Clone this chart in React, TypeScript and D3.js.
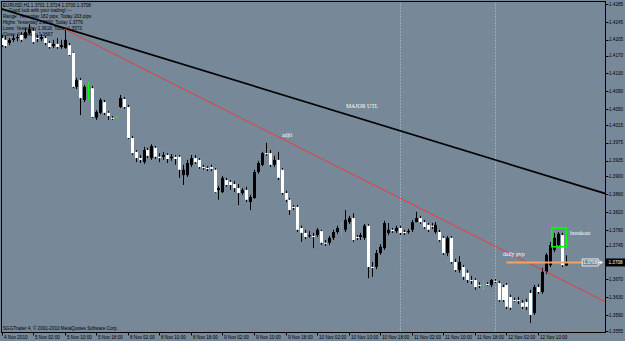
import React from 'react';
import * as d3 from 'd3';

const W = 625;
const H = 341;

// ---- Data (EURUSD H1) ----
const open = [
  1.4209, 1.4205, 1.4198, 1.4205, 1.4209, 1.4216, 1.4209, 1.4220, 1.4225, 1.4209,
  1.4207, 1.4209, 1.4198, 1.4191, 1.4196, 1.4189, 1.4187, 1.4193, 1.4176, 1.4100,
  1.4115, 1.4071, 1.4097, 1.4097, 1.4031, 1.4042, 1.4066, 1.4042, 1.4031, 1.4033,
  1.4055, 1.4073, 1.4055, 1.3986, 1.3955, 1.3941, 1.3932, 1.3959, 1.3941, 1.3964,
  1.3944, 1.3944, 1.3948, 1.3941, 1.3944, 1.3944, 1.3903, 1.3903, 1.3926, 1.3941,
  1.3937, 1.3921, 1.3919, 1.3921, 1.3915, 1.3870, 1.3865, 1.3892, 1.3888, 1.3883,
  1.3874, 1.3863, 1.3870, 1.3843, 1.3852, 1.3910, 1.3926, 1.3952, 1.3952, 1.3926,
  1.3937, 1.3915, 1.3863, 1.3848, 1.3832, 1.3832, 1.3785, 1.3774, 1.3767, 1.3767,
  1.3769, 1.3778, 1.3752, 1.3752, 1.3763, 1.3776, 1.3768, 1.3781, 1.3798, 1.3807,
  1.3765, 1.3765, 1.3763, 1.3790, 1.3698, 1.3698, 1.3729, 1.3740, 1.3774, 1.3781,
  1.3778, 1.3785, 1.3776, 1.3776, 1.3781, 1.3798, 1.3807, 1.3798, 1.3792, 1.3790,
  1.3776, 1.3776, 1.3763, 1.3729, 1.3763, 1.3709, 1.3691, 1.3698, 1.3685, 1.3669,
  1.3669, 1.3658, 1.3658, 1.3660, 1.3658, 1.3667, 1.3662, 1.3653, 1.3658, 1.3631,
  1.3624, 1.3624, 1.3618, 1.3620, 1.3640, 1.3595, 1.3653, 1.3642, 1.3687, 1.3702,
  1.3736, 1.3747, 1.3769, 1.3701,
];
const high = [
  1.4216, 1.4214, 1.4209, 1.4216, 1.4218, 1.4222, 1.4231, 1.4240, 1.4231, 1.4216,
  1.4218, 1.4214, 1.4202, 1.4205, 1.4209, 1.4205, 1.4229, 1.4198, 1.4178, 1.4120,
  1.4120, 1.4104, 1.4111, 1.4102, 1.4048, 1.4075, 1.4071, 1.4046, 1.4035, 1.4035,
  1.4082, 1.4077, 1.4060, 1.3990, 1.3959, 1.3948, 1.3966, 1.3964, 1.3972, 1.3968,
  1.3952, 1.3955, 1.3952, 1.3950, 1.3948, 1.3948, 1.3926, 1.3937, 1.3948, 1.3948,
  1.3941, 1.3926, 1.3923, 1.3926, 1.3919, 1.3879, 1.3901, 1.3897, 1.3892, 1.3890,
  1.3883, 1.3874, 1.3877, 1.3859, 1.3915, 1.3935, 1.3955, 1.3975, 1.3959, 1.3946,
  1.3955, 1.3919, 1.3868, 1.3852, 1.3836, 1.3836, 1.3790, 1.3781, 1.3778, 1.3774,
  1.3785, 1.3781, 1.3758, 1.3767, 1.3781, 1.3790, 1.3798, 1.3825, 1.3812, 1.3818,
  1.3769, 1.3774, 1.3794, 1.3794, 1.3709, 1.3736, 1.3749, 1.3801, 1.3796, 1.3785,
  1.3790, 1.3790, 1.3781, 1.3783, 1.3803, 1.3821, 1.3812, 1.3803, 1.3796, 1.3796,
  1.3798, 1.3781, 1.3767, 1.3767, 1.3767, 1.3716, 1.3722, 1.3702, 1.3691, 1.3678,
  1.3673, 1.3664, 1.3669, 1.3664, 1.3671, 1.3671, 1.3667, 1.3658, 1.3662, 1.3636,
  1.3629, 1.3631, 1.3624, 1.3627, 1.3647, 1.3658, 1.3660, 1.3696, 1.3729, 1.3754,
  1.3774, 1.3776, 1.3774, 1.3724,
];
const low = [
  1.4189, 1.4187, 1.4193, 1.4200, 1.4202, 1.4200, 1.4207, 1.4216, 1.4196, 1.4200,
  1.4202, 1.4193, 1.4185, 1.4187, 1.4185, 1.4185, 1.4185, 1.4169, 1.4097, 1.4095,
  1.4037, 1.4066, 1.4071, 1.4031, 1.4026, 1.4039, 1.4037, 1.4026, 1.4026, 1.4031,
  1.4053, 1.4051, 1.3984, 1.3948, 1.3932, 1.3930, 1.3928, 1.3941, 1.3937, 1.3939,
  1.3932, 1.3937, 1.3930, 1.3935, 1.3926, 1.3897, 1.3881, 1.3899, 1.3921, 1.3928,
  1.3917, 1.3915, 1.3912, 1.3912, 1.3863, 1.3848, 1.3863, 1.3877, 1.3870, 1.3865,
  1.3836, 1.3859, 1.3843, 1.3825, 1.3850, 1.3906, 1.3923, 1.3946, 1.3921, 1.3921,
  1.3892, 1.3859, 1.3843, 1.3814, 1.3825, 1.3776, 1.3754, 1.3760, 1.3763, 1.3740,
  1.3765, 1.3747, 1.3745, 1.3747, 1.3758, 1.3772, 1.3765, 1.3776, 1.3794, 1.3754,
  1.3758, 1.3758, 1.3758, 1.3673, 1.3676, 1.3693, 1.3725, 1.3736, 1.3769, 1.3774,
  1.3774, 1.3769, 1.3769, 1.3772, 1.3776, 1.3798, 1.3794, 1.3783, 1.3776, 1.3783,
  1.3772, 1.3754, 1.3725, 1.3722, 1.3705, 1.3687, 1.3685, 1.3669, 1.3662, 1.3660,
  1.3647, 1.3651, 1.3647, 1.3656, 1.3653, 1.3662, 1.3620, 1.3620, 1.3604, 1.3602,
  1.3620, 1.3615, 1.3604, 1.3602, 1.3573, 1.3591, 1.3638, 1.3638, 1.3682, 1.3698,
  1.3731, 1.3743, 1.3698, 1.3700,
];
const close = [
  1.4193, 1.4191, 1.4205, 1.4209, 1.4211, 1.4205, 1.4222, 1.4229, 1.4200, 1.4207,
  1.4211, 1.4198, 1.4189, 1.4196, 1.4189, 1.4193, 1.4205, 1.4171, 1.4100, 1.4115,
  1.4075, 1.4100, 1.4104, 1.4033, 1.4044, 1.4071, 1.4042, 1.4035, 1.4030, 1.4033,
  1.4075, 1.4055, 1.3986, 1.3952, 1.3941, 1.3937, 1.3959, 1.3946, 1.3968, 1.3944,
  1.3941, 1.3948, 1.3939, 1.3944, 1.3939, 1.3915, 1.3915, 1.3930, 1.3941, 1.3932,
  1.3921, 1.3919, 1.3917, 1.3917, 1.3865, 1.3874, 1.3897, 1.3881, 1.3881, 1.3874,
  1.3863, 1.3870, 1.3848, 1.3854, 1.3910, 1.3930, 1.3952, 1.3951, 1.3926, 1.3937,
  1.3897, 1.3863, 1.3848, 1.3825, 1.3830, 1.3781, 1.3774, 1.3765, 1.3769, 1.3765,
  1.3781, 1.3752, 1.3751, 1.3763, 1.3776, 1.3785, 1.3795, 1.3803, 1.3807, 1.3758,
  1.3763, 1.3769, 1.3790, 1.3698, 1.3697, 1.3729, 1.3743, 1.3796, 1.3781, 1.3778,
  1.3785, 1.3774, 1.3775, 1.3778, 1.3798, 1.3807, 1.3798, 1.3787, 1.3781, 1.3789,
  1.3792, 1.3758, 1.3729, 1.3763, 1.3709, 1.3691, 1.3709, 1.3676, 1.3669, 1.3668,
  1.3653, 1.3657, 1.3658, 1.3659, 1.3669, 1.3666, 1.3624, 1.3624, 1.3609, 1.3607,
  1.3623, 1.3622, 1.3609, 1.3609, 1.3591, 1.3653, 1.3642, 1.3687, 1.3725, 1.3747,
  1.3763, 1.3772, 1.3702, 1.3708,
];
const greenBars = [22, 29, 86, 122];

const timeLabels = [
  '4 Nov 2010', '5 Nov 02:00', '5 Nov 10:00', '5 Nov 18:00', '8 Nov 02:00', '8 Nov 10:00',
  '8 Nov 18:00', '9 Nov 02:00', '9 Nov 10:00', '9 Nov 18:00', '10 Nov 02:00', '10 Nov 10:00',
  '10 Nov 18:00', '11 Nov 02:00', '11 Nov 10:00', '11 Nov 18:00', '12 Nov 02:00', '12 Nov 10:00',
];
const barsPerTimeLabel = 8;
const priceTicks = [
  1.4285, 1.4245, 1.4205, 1.4170, 1.4130, 1.4090, 1.4050, 1.4015, 1.3975, 1.3935,
  1.3900, 1.3860, 1.3820, 1.3780, 1.3745, 1.3705, 1.3670, 1.3630, 1.3590, 1.3555,
];
const headerLines = [
  'EURUSD,H1  1.3701 1.3724 1.3700 1.3708',
  '--- Good luck with your trading! ---',
  'Range: Yesterday 182 pips; Today 203 pips',
  'Highs: Yesterday 1.3800, Today 1.3776',
  'Lows: Yesterday 1.3618, Today 1.3573',
  'Close: Yesterday 1.3667',
];
const copyright = 'SGGTrader 4, \u00a9 2001-2010 MetaQuotes Software Corp.';
const lastPrice = 1.3708;

const majorUtl = { idx: [0, 143], price: [1.4274, 1.3889] };
const minorTl = { idx: [16, 143], price: [1.4229, 1.3665] };
const pivotLine = { idx: [128, 147.2], price: 1.3708 };
const breakoutBox = { idx: [139.5, 143.2], price: [1.3785, 1.3743] };
const separators = [101, 125];
const notes = [
  { text: 'MAJOR UTL', idx: 87.3, price: 1.4053 },
  { text: 'adjtl', idx: 71.1, price: 1.3987 },
  { text: 'daily pvp', idx: 127.1, price: 1.3723 },
  { text: 'breakout', idx: 144.1, price: 1.3769 },
];
const faintNotes = [
  { text: 'pivot', idx: 98.5, price: 1.3696 },
  { text: 'pivot', idx: 123.3, price: 1.3694 },
];

const BG = '#778899';
const FRAME = { l: 1.5, r: 605.5, t: 1.5, b: 332.5 };

export default function App() {
  const n = open.length;
  const x = d3.scaleLinear().domain([0, n - 1]).range([1.5, 1.5 + 3.945 * (n - 1)]);
  const y = d3.scaleLinear().domain([1.3555, 1.4285]).range([331, 4]);
  const line = d3.line<[number, number]>();

  const ray = (tl: { idx: number[]; price: number[] }, extendLeft: boolean) => {
    const x1 = x(tl.idx[0]), y1 = y(tl.price[0]);
    const x2 = x(tl.idx[1]), y2 = y(tl.price[1]);
    const m = (y2 - y1) / (x2 - x1);
    const xs = extendLeft ? FRAME.l : x1;
    const xe = FRAME.r;
    return line([[xs, y1 + m * (xs - x1)], [xe, y1 + m * (xe - x1)]]) || '';
  };

  const font = "'Liberation Sans', Arial, sans-serif";
  const serif = "'Liberation Serif', 'Times New Roman', serif";
  const tiny = 4.6;

  const lastY = y(lastPrice);
  const pvY = y(pivotLine.price);
  const pvX1 = x(pivotLine.idx[1]);

  return (
    <svg width={W} height={H} style={{ position: 'absolute', left: 0, top: 0 }} fontFamily={font}>
      <defs>
        <clipPath id="plot">
          <rect x={FRAME.l} y={FRAME.t} width={FRAME.r - FRAME.l} height={FRAME.b - FRAME.t} />
        </clipPath>
      </defs>
      <rect x={0} y={0} width={W} height={H} fill={BG} />

      <g clipPath="url(#plot)">
        {separators.map((s) => (
          <line key={s} x1={Math.round(x(s)) + 0.5} x2={Math.round(x(s)) + 0.5} y1={FRAME.t} y2={FRAME.b}
            stroke="#c4ccd6" strokeWidth={1} strokeDasharray="1,2" />
        ))}

        {/* header text */}
        {headerLines.map((t, k) => (
          <text key={k} x={3} y={6.5 + k * 5.8} fontSize={tiny} fill="#000">{t}</text>
        ))}

        {/* candles */}
        {d3.range(n).map((i) => {
          const o = open[i], c = close[i], h = high[i], l = low[i];
          const cx = Math.round(x(i));
          const green = greenBars.includes(i);
          const top = y(Math.max(o, c));
          const bot = y(Math.min(o, c));
          const bh = Math.max(1, bot - top);
          const bull = c > o;
          const wickColor = green ? '#00ff00' : '#000';
          const fill = green ? '#00ff00' : bull ? '#000' : '#ffffff';
          const bw = green && bh > 1.5 ? 1 : 3;
          return (
            <g key={i}>
              <line x1={cx + 0.5} x2={cx + 0.5} y1={y(h)} y2={y(l)} stroke={wickColor} strokeWidth={1} />
              <rect x={cx + 0.5 - bw / 2} y={top} width={bw} height={bh} fill={fill} />
            </g>
          );
        })}

        {/* trend lines */}
        <path d={ray(majorUtl, true)} stroke="#000" strokeWidth={1.7} fill="none" />
        <path d={ray(minorTl, false)} stroke="#ee3b3b" strokeWidth={1} fill="none" />

        {/* daily pivot */}
        <line x1={x(pivotLine.idx[0])} x2={pvX1} y1={pvY} y2={pvY} stroke="#f4a460" strokeWidth={2} />
        <rect x={pvX1} y={pvY - 3.5} width={16} height={7} fill="none" stroke="#ffffff" strokeWidth={0.8} />
        <text x={pvX1 + 8} y={pvY + 1.7} fontSize={tiny} fill="#ffffff" textAnchor="middle">{lastPrice.toFixed(4)}</text>
        <line x1={pvX1 + 16} x2={pvX1 + 20} y1={pvY} y2={pvY} stroke="#ffffff" strokeWidth={1} />
        <path d={`M${pvX1 + 17},${pvY - 1.8} L${pvX1 + 20.5},${pvY} L${pvX1 + 17},${pvY + 1.8}`} fill="none" stroke="#ffffff" strokeWidth={0.8} />

        {/* breakout box */}
        <rect x={x(breakoutBox.idx[0])} y={y(breakoutBox.price[0])}
          width={x(breakoutBox.idx[1]) - x(breakoutBox.idx[0])}
          height={y(breakoutBox.price[1]) - y(breakoutBox.price[0])}
          fill="none" stroke="#00ff00" strokeWidth={1.5} />

        {notes.map((nt) => (
          <text key={nt.text} x={x(nt.idx)} y={y(nt.price)} fontSize={5.8} fontFamily={serif} fill="#ffffff">{nt.text}</text>
        ))}
        {faintNotes.map((nt, k) => (
          <text key={k} x={x(nt.idx)} y={y(nt.price)} fontSize={4.2} fill="#5f9ea0">{nt.text}</text>
        ))}

        <text x={3} y={329.5} fontSize={tiny} fill="#000">{copyright}</text>
      </g>

      {/* frame */}
      <rect x={FRAME.l} y={FRAME.t} width={FRAME.r - FRAME.l} height={FRAME.b - FRAME.t} fill="none" stroke="#000" strokeWidth={1} />

      {/* price axis */}
      {priceTicks.map((p) => (
        <g key={p}>
          <line x1={FRAME.r} x2={FRAME.r + 3} y1={Math.round(y(p)) + 0.5} y2={Math.round(y(p)) + 0.5} stroke="#000" />
          <text x={609} y={y(p) + 1.6} fontSize={tiny} fill="#000">{p.toFixed(4)}</text>
        </g>
      ))}
      <rect x={606} y={lastY - 4} width={19} height={8} fill="#000" />
      <text x={608.5} y={lastY + 1.7} fontSize={tiny} fill="#ffffff">{lastPrice.toFixed(4)}</text>

      {/* time axis */}
      {timeLabels.map((t, k) => {
        const tx = Math.round(x(k * barsPerTimeLabel)) + 0.5;
        return (
          <g key={t}>
            <line x1={tx} x2={tx} y1={FRAME.b} y2={FRAME.b + 3} stroke="#000" />
            <text x={tx + 1.5} y={338.5} fontSize={tiny} fill="#000">{t}</text>
          </g>
        );
      })}
    </svg>
  );
}
